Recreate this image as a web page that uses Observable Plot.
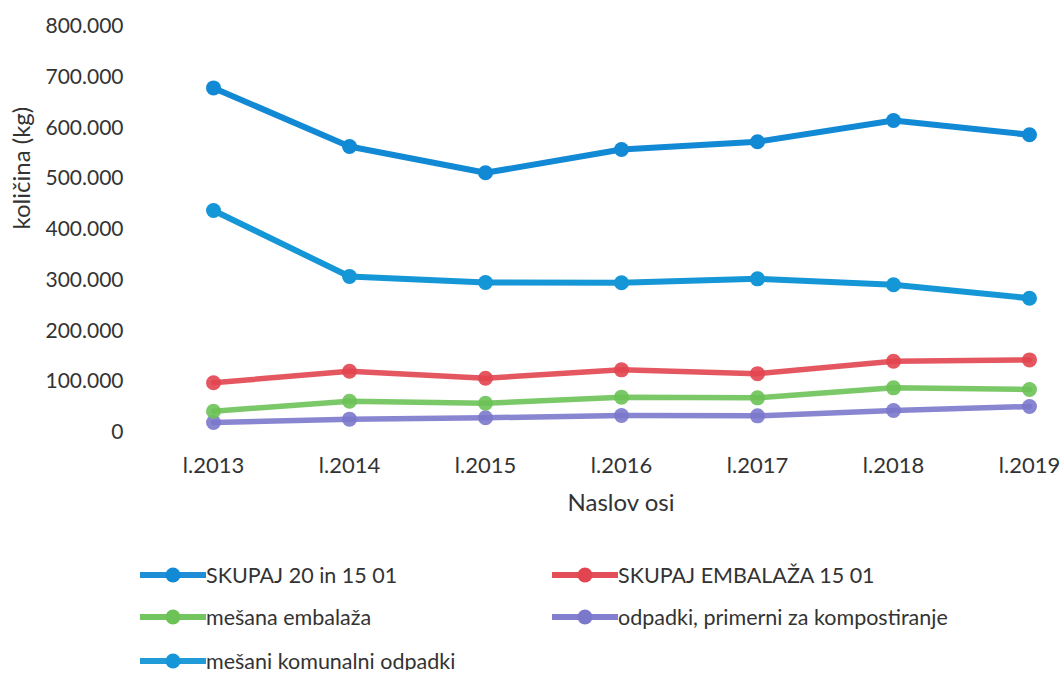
<!DOCTYPE html>
<html>
<head>
<meta charset="utf-8">
<script src="https://cdn.jsdelivr.net/npm/d3@7"></script>
<script src="https://cdn.jsdelivr.net/npm/@observablehq/plot@0.6"></script>
<style>
  body { margin: 0; background: #fff; font-family: Lato, "Open Sans", sans-serif; }
  #chart { width: 1062px; }
  .legend { position: relative; height: 150px; font-family: Lato, "Open Sans", sans-serif; font-size: 21.5px; color: #333; }
  .item { position: absolute; display: flex; align-items: center; white-space: nowrap; }
  .item svg { margin-right: 0px; }
</style>
</head>
<body>
<div id="chart"></div>
<script>
const years = ["l.2013", "l.2014", "l.2015", "l.2016", "l.2017", "l.2018", "l.2019"];
const seriesNames = ["SKUPAJ 20 in 15 01", "SKUPAJ EMBALAŽA 15 01", "mešana embalaža", "odpadki, primerni za kompostiranje", "mešani komunalni odpadki"];
const skupaj = [679000, 563500, 511700, 557600, 573000, 614800, 586600];
const embalaza = [98000, 120800, 107000, 123500, 116000, 140500, 143000];
const mesanaEmb = [42000, 61700, 57700, 69600, 68300, 88000, 84700];
const kompost = [19700, 26300, 29000, 33500, 32800, 43300, 51200];
const komunalni = [437400, 307400, 295600, 295000, 302800, 291000, 264600];
const yTicks = [0, 100000, 200000, 300000, 400000, 500000, 600000, 700000, 800000];
const colors = ["#1289d5", "#e2454f", "#6cc257", "#7b78cc", "#1596d6"];

const valuesBySeries = [skupaj, embalaza, mesanaEmb, kompost, komunalni];
const data = [];
seriesNames.forEach((s, i) => years.forEach((y, j) => data.push({series: s, year: y, value: valuesBySeries[i][j]})));

const fmtK = d => d === 0 ? "0" : (d / 1000) + ".000";

const drawOrder = [3, 2, 1, 4, 0];
const marks = [];
drawOrder.forEach(i => {
  const d = data.filter(r => r.series === seriesNames[i]);
  marks.push(Plot.line(d, {x: "year", y: "value", stroke: colors[i], strokeWidth: i === 0 || i === 4 ? 6 : 5.5, strokeOpacity: i === 0 || i === 4 ? 1 : 0.9}));
  marks.push(Plot.dot(d, {x: "year", y: "value", fill: colors[i], r: 7.5, stroke: "none", fillOpacity: i === 0 || i === 4 ? 1 : 0.9}));
});

const chart = Plot.plot({
  width: 1062,
  height: 520,
  marginLeft: 211,
  marginRight: 32,
  marginTop: 26,
  marginBottom: 88,
  style: {fontFamily: "Lato, 'Open Sans', sans-serif", fontSize: "20px", color: "#333", background: "#fff"},
  x: {type: "point", domain: years, padding: 0},
  y: {domain: [0, 800000]},
  marks: [
    Plot.axisY({ticks: yTicks, tickFormat: fmtK, tickSize: 0, tickPadding: 88, label: null, fontSize: 21}),
    Plot.axisX({tickSize: 0, tickPadding: 25, label: null, fontSize: 22}),
    Plot.text(["količina (kg)"], {frameAnchor: "left", rotate: -90, dx: -189, fontSize: 24, fill: "#333"}),
    Plot.text(["Naslov osi"], {frameAnchor: "bottom", dy: 78, fontSize: 24, fill: "#333"}),
    ...marks
  ]
});
document.getElementById("chart").appendChild(chart);

const legend = document.createElement("div");
legend.className = "legend";
const positions = [[140, 55], [552, 55], [140, 97], [552, 97], [140, 141]];
seriesNames.forEach((s, i) => {
  const it = document.createElement("div");
  it.className = "item";
  it.style.left = positions[i][0] + "px";
  it.style.top = (positions[i][1] - 14) + "px";
  it.innerHTML = `<svg width="66" height="28"><line x1="0" x2="66" y1="14" y2="14" stroke="${colors[i]}" stroke-width="6" stroke-opacity="0.95"/><circle cx="33" cy="14" r="7.5" fill="${colors[i]}"/></svg><span>${s}</span>`;
  legend.appendChild(it);
});
document.body.appendChild(legend);
</script>
</body>
</html>
